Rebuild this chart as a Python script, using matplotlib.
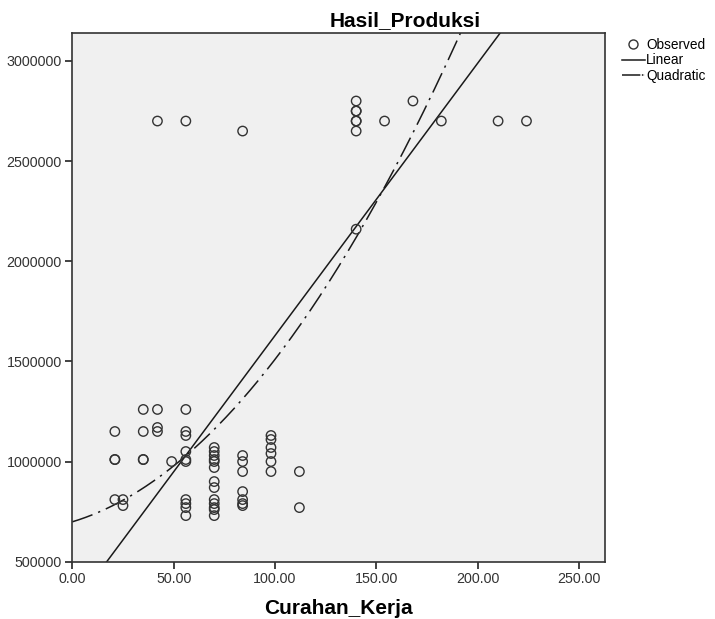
import numpy as np
import matplotlib
matplotlib.use("Agg")
import matplotlib.pyplot as plt
from matplotlib.lines import Line2D

plt.rcParams["font.family"] = ["Liberation Sans", "DejaVu Sans"]

# Observed points (Curahan_Kerja, Hasil_Produksi)
obs_x = [42, 56, 84, 140, 140, 140, 140, 140, 140, 154, 168, 182, 210, 224, 140,
         21, 21, 21, 21, 25, 25,
         35, 35, 35, 35,
         42, 42, 42,
         49,
         56, 56, 56, 56, 56, 56, 56, 56, 56, 56,
         70, 70, 70, 70, 70, 70, 70, 70, 70, 70, 70, 70, 70,
         84, 84, 84, 84, 84, 84, 84,
         98, 98, 98, 98, 98, 98,
         112, 112]
obs_y = [2700000, 2700000, 2650000, 2800000, 2750000, 2750000, 2700000, 2700000, 2650000,
         2700000, 2800000, 2700000, 2700000, 2700000, 2160000,
         1150000, 1010000, 1010000, 810000, 810000, 780000,
         1260000, 1150000, 1010000, 1010000,
         1260000, 1170000, 1150000,
         1000000,
         1260000, 1150000, 1130000, 1050000, 1010000, 1000000, 810000, 790000, 770000, 730000,
         1070000, 1050000, 1030000, 1010000, 1000000, 970000, 900000, 870000,
         810000, 790000, 770000, 760000, 730000,
         1030000, 1000000, 950000, 850000, 810000, 790000, 780000,
         1130000, 1110000, 1070000, 1040000, 1000000, 950000,
         950000, 770000]

# fitted curves
lin_coef = [268700, 13605]           # b0, b1
quad_coef = [699000, 3050, 50.65]    # b0, b1, b2

x_ticks = [0, 50, 100, 150, 200, 250]
y_ticks = [500000, 1000000, 1500000, 2000000, 2500000, 3000000]

QUAD_DASH = (0, (14, 4, 1.5, 4))

fig = plt.figure(figsize=(7.15, 6.19), dpi=100)
ax = fig.add_axes([0.1011, 0.0926, 0.745, 0.8536])
ax.set_facecolor("#f0f0f0")

xx = np.linspace(0, 263, 400)
ax.plot(xx, lin_coef[0] + lin_coef[1] * xx, color="#1a1a1a", lw=1.1)
ax.plot(xx, quad_coef[0] + quad_coef[1] * xx + quad_coef[2] * xx ** 2,
        color="#1a1a1a", lw=1.1, linestyle=QUAD_DASH)
ax.scatter(obs_x, obs_y, s=46, facecolors="none", edgecolors="#333333",
           linewidths=1.0, zorder=3)

ax.set_xlim(0, 262.7)
ax.set_ylim(500000, 3138000)
ax.set_xticks(x_ticks)
ax.set_xticklabels([f"{v:.2f}" for v in x_ticks])
ax.set_yticks(y_ticks)
ax.set_yticklabels([str(v) for v in y_ticks])
ax.tick_params(direction="out", length=5, width=1.2, colors="#222222",
               labelsize=10.3, labelcolor="#333333", pad=2.5)
for s in ax.spines.values():
    s.set_color("#333333")
    s.set_linewidth(1.2)

ax.set_xlabel("Curahan_Kerja", fontsize=15, fontweight="bold", labelpad=9)
fig.text(0.566, 0.966, "Hasil_Produksi", fontsize=15, fontweight="bold",
         ha="center", va="center")

handles = [
    Line2D([], [], marker="o", linestyle="none", markerfacecolor="none",
           markeredgecolor="#333333", markersize=6.5),
    Line2D([], [], color="#1a1a1a", lw=1.1),
    Line2D([], [], color="#1a1a1a", lw=1.1, linestyle=(0, (12, 1, 1, 1))),
]
fig.legend(handles, ["Observed", "Linear", "Quadratic"], loc="upper left",
           bbox_to_anchor=(0.862, 0.948), frameon=False, fontsize=9.8,
           handlelength=1.7, handletextpad=0.1, labelspacing=0.12,
           borderaxespad=0)

fig.savefig("out.png", dpi=100)
